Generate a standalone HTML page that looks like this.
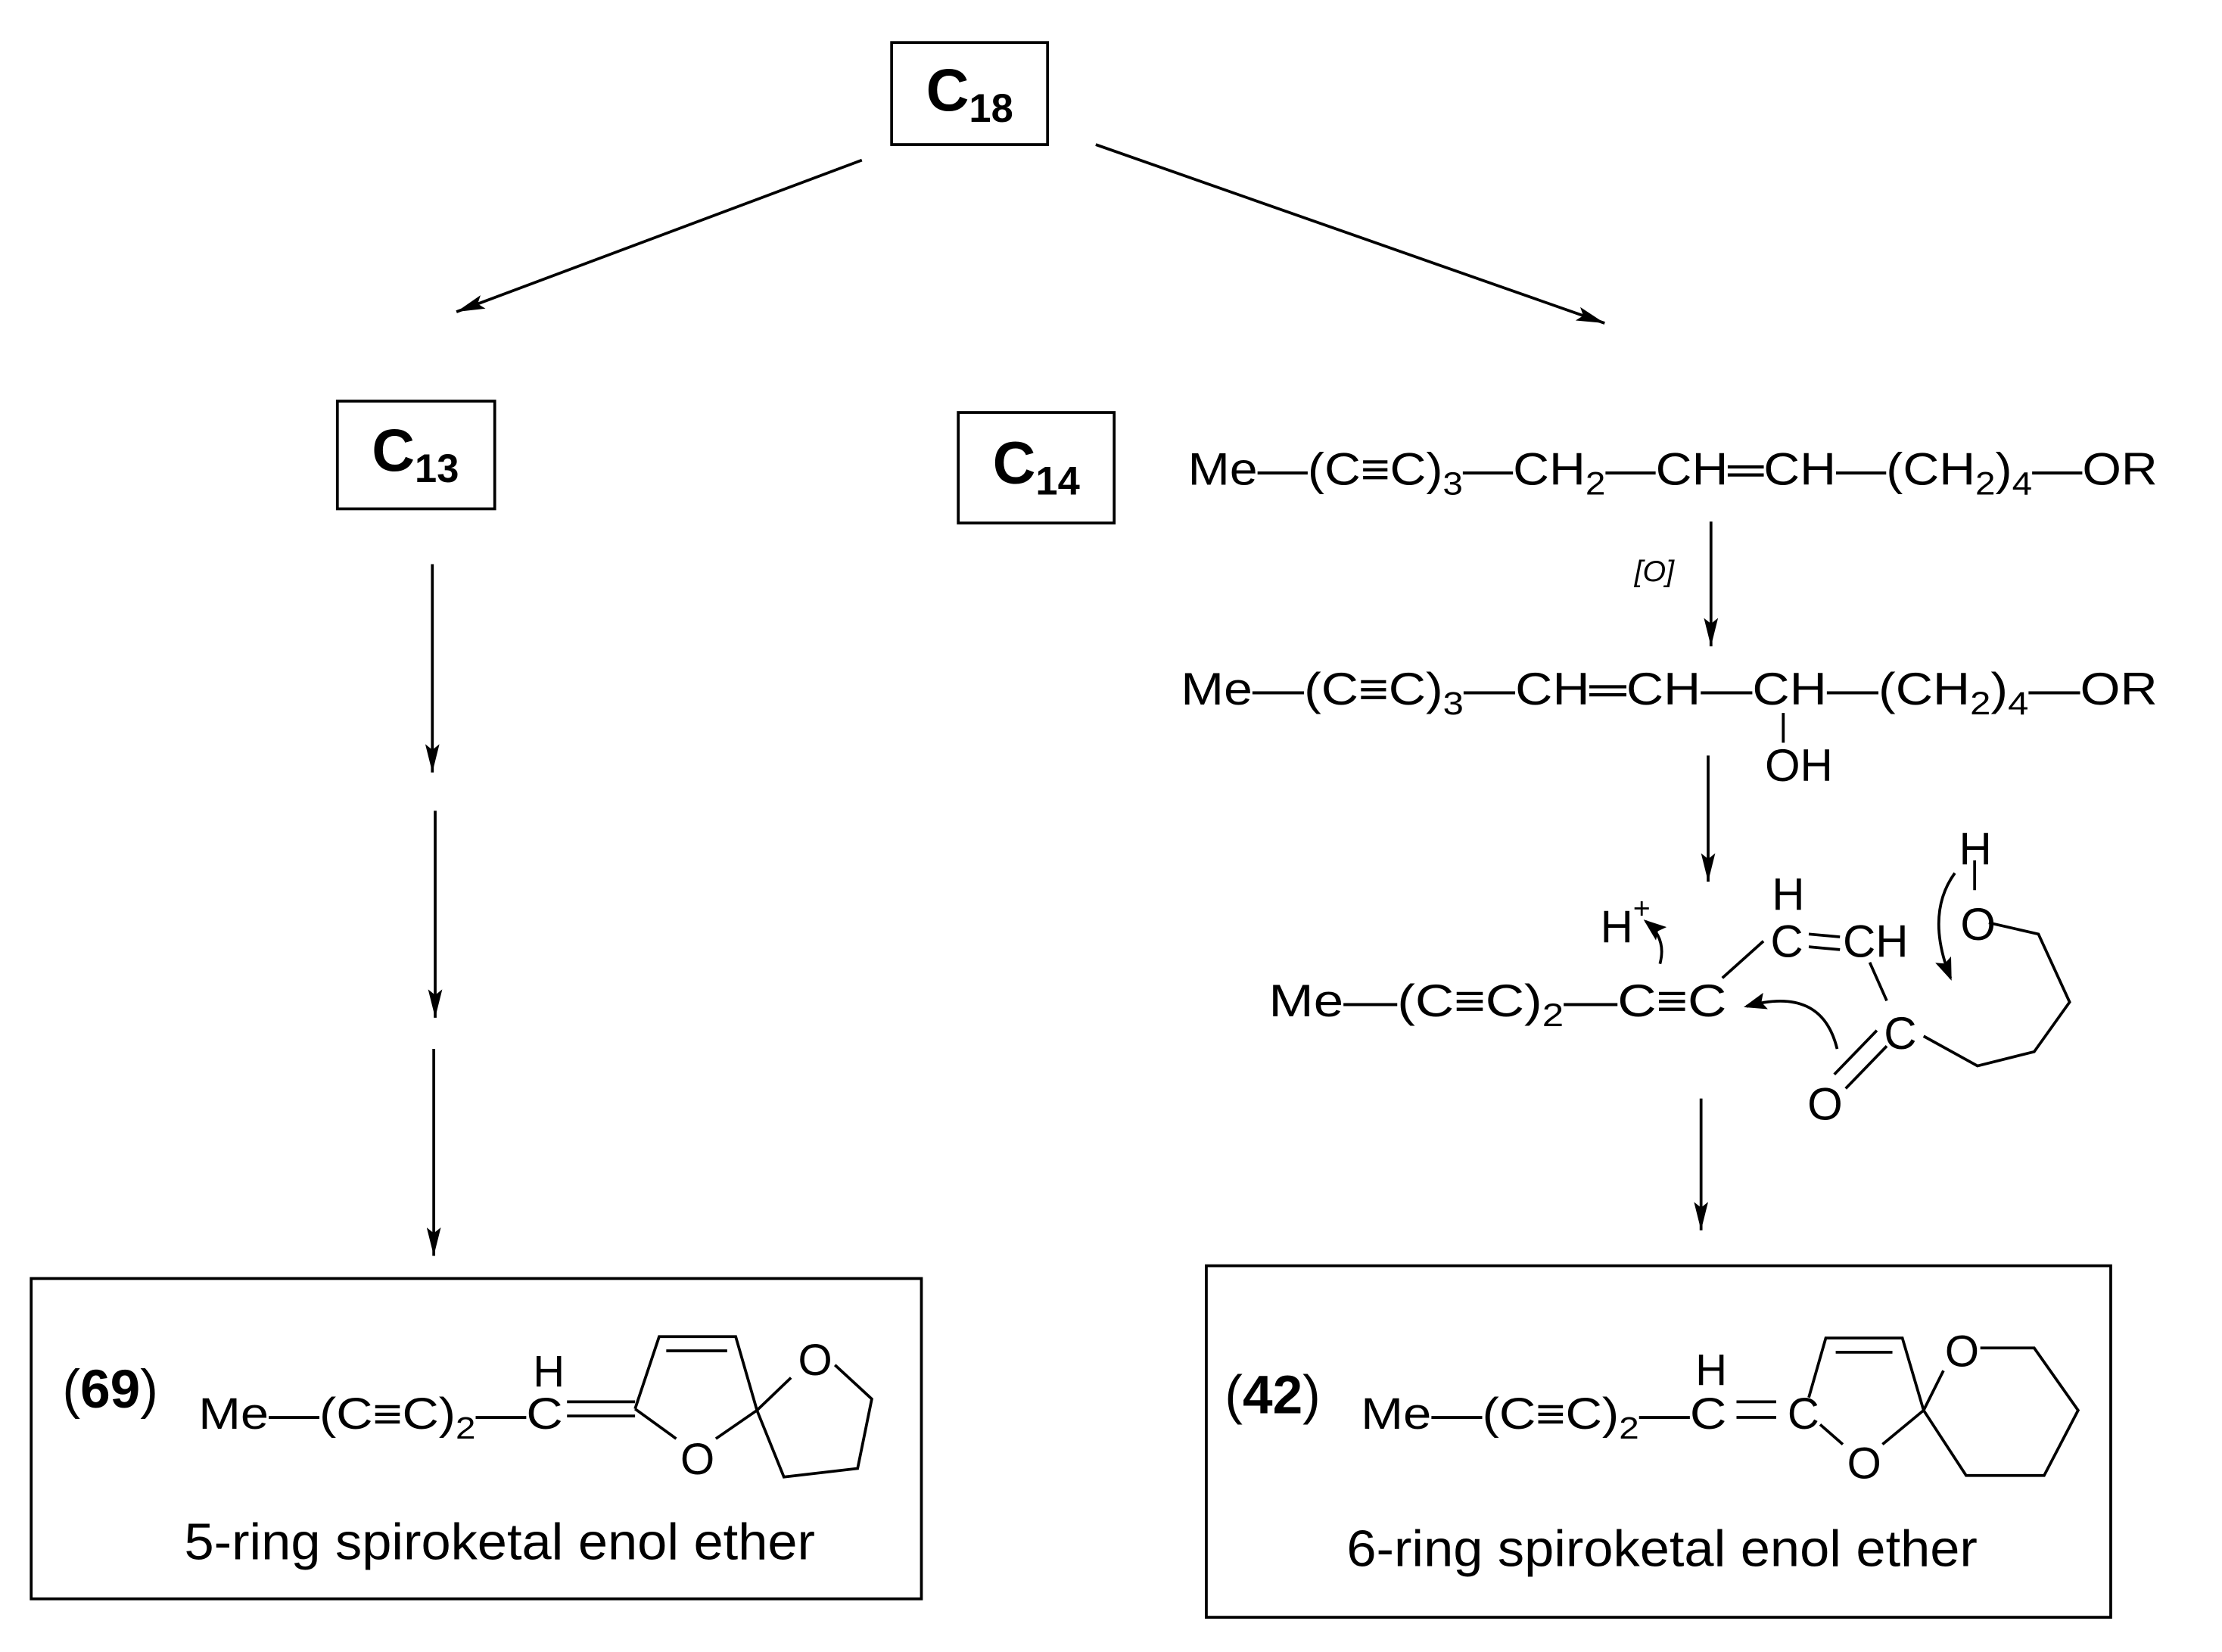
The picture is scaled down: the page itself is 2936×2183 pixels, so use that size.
<!DOCTYPE html>
<html><head><meta charset="utf-8"><style>html,body{margin:0;padding:0;background:#fff}svg{display:block}</style></head>
<body>
<svg width="2936" height="2183" viewBox="0 0 1567.5 1165.5" preserveAspectRatio="none" xmlns="http://www.w3.org/2000/svg" font-family="Liberation Sans, sans-serif">
<defs>
<marker id="ah" viewBox="0 0 20 10" refX="20" refY="5" markerWidth="20" markerHeight="10" markerUnits="userSpaceOnUse" orient="auto"><path d="M0,0 L20,5 L0,10 L4,5 Z" fill="#000"/></marker>
<marker id="ch" viewBox="0 0 16 12" refX="14" refY="6" markerWidth="16" markerHeight="12" markerUnits="userSpaceOnUse" orient="auto"><path d="M0,0 L16,6 L0,12 L3,6 Z" fill="#000"/></marker>
</defs>
<g fill="none" stroke="#000" stroke-width="2">
<rect x="629" y="30" width="110" height="72"/>
<rect x="238" y="283" width="111" height="76"/>
<rect x="676" y="291" width="110" height="78"/>
<rect x="22" y="902" width="628" height="226"/>
<rect x="851" y="893" width="638" height="248"/>
<line x1="608" y1="113" x2="322" y2="220" marker-end="url(#ah)"/>
<line x1="773" y1="102" x2="1132" y2="228" marker-end="url(#ah)"/>
<line x1="305" y1="398" x2="305" y2="545" marker-end="url(#ah)"/>
<line x1="307" y1="572" x2="307" y2="718" marker-end="url(#ah)"/>
<line x1="306" y1="740" x2="306" y2="886" marker-end="url(#ah)"/>
<line x1="1207" y1="368" x2="1207" y2="456" marker-end="url(#ah)"/>
<line x1="1205" y1="533" x2="1205" y2="622" marker-end="url(#ah)"/>
<line x1="1200" y1="775" x2="1200" y2="868" marker-end="url(#ah)"/>
<line x1="1258" y1="503" x2="1258" y2="524"/>
<line x1="1393" y1="607" x2="1393" y2="628"/>
<polyline points="1403,651 1438,659 1460,707 1435,742 1395,752 1357,731"/>
<line x1="1331" y1="706" x2="1319" y2="679"/>
<line x1="1215" y1="690" x2="1244" y2="664"/>
<line x1="1276" y1="659" x2="1298" y2="661"/>
<line x1="1276" y1="668" x2="1298" y2="670"/>
<line x1="1324" y1="727" x2="1294" y2="758"/>
<line x1="1331" y1="738" x2="1302" y2="768"/>
<path d="M1171,680 Q1176,662 1161,650" marker-end="url(#ch)"/>
<path d="M1379,616 Q1358,645 1376,690" marker-end="url(#ch)"/>
<path d="M1296,740 Q1285,695 1232,710" marker-end="url(#ch)"/>
<polyline points="448,994 465,943 519,943 534,995 505,1015"/>
<line x1="470" y1="953" x2="513" y2="953"/>
<line x1="448" y1="994" x2="477" y2="1015"/>
<polyline points="534,995 553,1042 605,1036 615,987 589,963"/>
<line x1="534" y1="995" x2="558" y2="972"/>
<line x1="400" y1="989" x2="448" y2="989"/>
<line x1="400" y1="999" x2="448" y2="999"/>
<polyline points="1276,986 1288,944 1342,944 1357,995 1328,1019"/>
<line x1="1295" y1="954" x2="1335" y2="954"/>
<line x1="1284" y1="1005" x2="1300" y2="1019"/>
<polyline points="1371,967 1357,995 1387,1041 1442,1041 1466,995 1435,951 1397,951"/>
<line x1="1225" y1="989" x2="1253" y2="989"/>
<line x1="1225" y1="1000" x2="1253" y2="1000"/>
</g>
<g fill="#000">
<text x="684" y="78" text-anchor="middle" font-weight="bold" font-size="42">C<tspan font-size="28" dy="8">18</tspan></text>
<text x="293" y="332" text-anchor="middle" font-weight="bold" font-size="42">C<tspan font-size="28" dy="8">13</tspan></text>
<text x="731" y="341" text-anchor="middle" font-weight="bold" font-size="42">C<tspan font-size="28" dy="8">14</tspan></text>
<text x="838" y="342" font-size="32" textLength="684" lengthAdjust="spacingAndGlyphs">Me—(C≡C)<tspan font-size="23" dy="7">3</tspan><tspan dy="-7">—CH</tspan><tspan font-size="23" dy="7">2</tspan><tspan dy="-7">—CH═CH—(CH</tspan><tspan font-size="23" dy="7">2</tspan><tspan dy="-7">)</tspan><tspan font-size="23" dy="7">4</tspan><tspan dy="-7">—OR</tspan></text>
<text x="1153" y="410" font-size="21" font-style="italic">[O]</text>
<text x="833" y="497" font-size="32" textLength="689" lengthAdjust="spacingAndGlyphs">Me—(C≡C)<tspan font-size="23" dy="7">3</tspan><tspan dy="-7">—CH═CH—CH—(CH</tspan><tspan font-size="23" dy="7">2</tspan><tspan dy="-7">)</tspan><tspan font-size="23" dy="7">4</tspan><tspan dy="-7">—OR</tspan></text>
<text x="1245" y="551" font-size="32">OH</text>
<text x="895" y="717" font-size="32" textLength="323" lengthAdjust="spacingAndGlyphs">Me—(C≡C)<tspan font-size="23" dy="7">2</tspan><tspan dy="-7">—C≡C</tspan></text>
<text x="1129" y="665" font-size="32">H</text><text x="1152" y="648" font-size="21">+</text>
<text x="1250" y="642" font-size="32">H</text>
<text x="1249" y="675" font-size="32">C</text>
<text x="1300" y="675" font-size="32">CH</text>
<text x="1382" y="610" font-size="32">H</text>
<text x="1383" y="663" font-size="32">O</text>
<text x="1329" y="740" font-size="32">C</text>
<text x="1275" y="790" font-size="32">O</text>
<text x="44" y="993" font-size="38">(<tspan font-weight="bold">69</tspan>)</text>
<text x="140" y="1008" font-size="31" textLength="257" lengthAdjust="spacingAndGlyphs">Me—(C≡C)<tspan font-size="22" dy="7">2</tspan><tspan dy="-7">—C</tspan></text>
<text x="376" y="978" font-size="31">H</text>
<text x="480" y="1040" font-size="31">O</text>
<text x="563" y="970" font-size="31">O</text>
<text x="130" y="1100" font-size="36" textLength="445" lengthAdjust="spacingAndGlyphs">5-ring spiroketal enol ether</text>
<text x="864" y="997" font-size="38">(<tspan font-weight="bold">42</tspan>)</text>
<text x="960" y="1008" font-size="31" textLength="258" lengthAdjust="spacingAndGlyphs">Me—(C≡C)<tspan font-size="22" dy="7">2</tspan><tspan dy="-7">—C</tspan></text>
<text x="1196" y="977" font-size="31">H</text>
<text x="1261" y="1008" font-size="31">C</text>
<text x="1303" y="1043" font-size="31">O</text>
<text x="1372" y="964" font-size="31">O</text>
<text x="950" y="1105" font-size="36" textLength="445" lengthAdjust="spacingAndGlyphs">6-ring spiroketal enol ether</text>
</g>
</svg>
</body></html>
